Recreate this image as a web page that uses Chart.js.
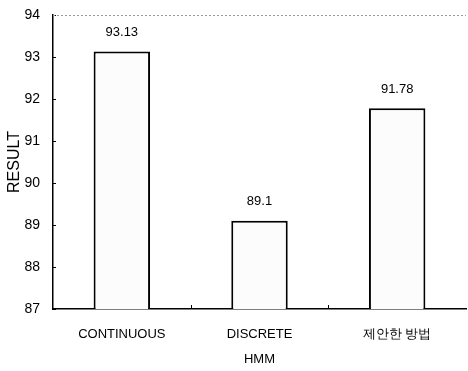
<!DOCTYPE html>
<html>
<head>
<meta charset="utf-8">
<script src="https://cdn.jsdelivr.net/npm/chart.js@4/dist/chart.umd.min.js"></script>
<style>
  html, body { margin: 0; padding: 0; background: #fff; }
  #wrap { position: relative; width: 468px; height: 371px; }
</style>
</head>
<body>
<div id="wrap"><canvas id="c"></canvas></div>
<script>
const categories = ['CONTINUOUS', 'DISCRETE', '제안한 방법'];
const results = [93.13, 89.1, 91.78];
const valueLabels = ['93.13', '89.1', '91.78'];
const yTicks = [87, 88, 89, 90, 91, 92, 93, 94];

const FONT = "'Liberation Sans', Arial, sans-serif";

// inward ticks, dotted top line, value labels
const decor = {
    id: 'decor',
    afterDatasetsDraw(chart) {
        const ctx = chart.ctx;
        const x = chart.scales.x, y = chart.scales.y;
        const area = chart.chartArea;
        ctx.save();
        ctx.strokeStyle = '#000';
        ctx.lineWidth = 1;
        yTicks.forEach(v => {
            const py = Math.round(y.getPixelForValue(v)) + 0.5;
            ctx.beginPath();
            ctx.moveTo(area.left, py);
            ctx.lineTo(area.left + 3, py);
            ctx.stroke();
        });
        for (let i = 1; i < categories.length; i++) {
            const px = Math.round((x.getPixelForValue(i - 1) + x.getPixelForValue(i)) / 2) + 0.5;
            ctx.beginPath();
            ctx.moveTo(px, area.bottom);
            ctx.lineTo(px, area.bottom - 4);
            ctx.stroke();
        }
        // dotted top border
        ctx.strokeStyle = '#999';
        ctx.setLineDash([2, 2]);
        const top = Math.round(y.getPixelForValue(94)) + 0.5;
        ctx.beginPath();
        ctx.moveTo(area.left, top);
        ctx.lineTo(area.right, top);
        ctx.stroke();
        ctx.setLineDash([]);
        // value labels
        ctx.fillStyle = '#000';
        ctx.font = '13px ' + FONT;
        ctx.textAlign = 'center';
        ctx.textBaseline = 'middle';
        results.forEach((v, i) => {
            ctx.fillText(valueLabels[i], x.getPixelForValue(i), y.getPixelForValue(v) - 19);
        });
        ctx.restore();
    }
};

new Chart(document.getElementById('c'), {
    type: 'bar',
    data: {
        labels: categories,
        datasets: [{
            data: results,
            backgroundColor: '#fcfcfc',
            borderColor: '#000',
            borderWidth: 2,
            borderSkipped: false,
            categoryPercentage: 1,
            barPercentage: 0.41
        }]
    },
    options: {
        responsive: true,
        maintainAspectRatio: false,
        animation: false,
        layout: { padding: { top: 15, right: 2, left: 0, bottom: 0 } },
        plugins: { legend: { display: false }, tooltip: { enabled: false } },
        scales: {
            x: {
                afterFit: s => { s.height = 62; },
                grid: { display: false },
                border: { color: '#000', width: 1.5 },
                ticks: { color: '#000', font: { family: FONT, size: 13 }, padding: 10 },
                title: { display: true, text: 'HMM', color: '#000', font: { family: FONT, size: 13 }, padding: { top: 0, bottom: 4 } }
            },
            y: {
                min: 87,
                max: 94,
                afterBuildTicks: s => { s.ticks = yTicks.map(v => ({ value: v })); },
                afterFit: s => { s.width = 53; },
                grid: { display: false },
                border: { color: '#000', width: 1.5 },
                ticks: { color: '#000', font: { family: FONT, size: 14 }, padding: 5 },
                title: { display: true, text: 'RESULT', color: '#000', font: { family: FONT, size: 16 }, padding: { top: 5, bottom: 0 } }
            }
        }
    },
    plugins: [decor]
});
</script>
</body>
</html>
